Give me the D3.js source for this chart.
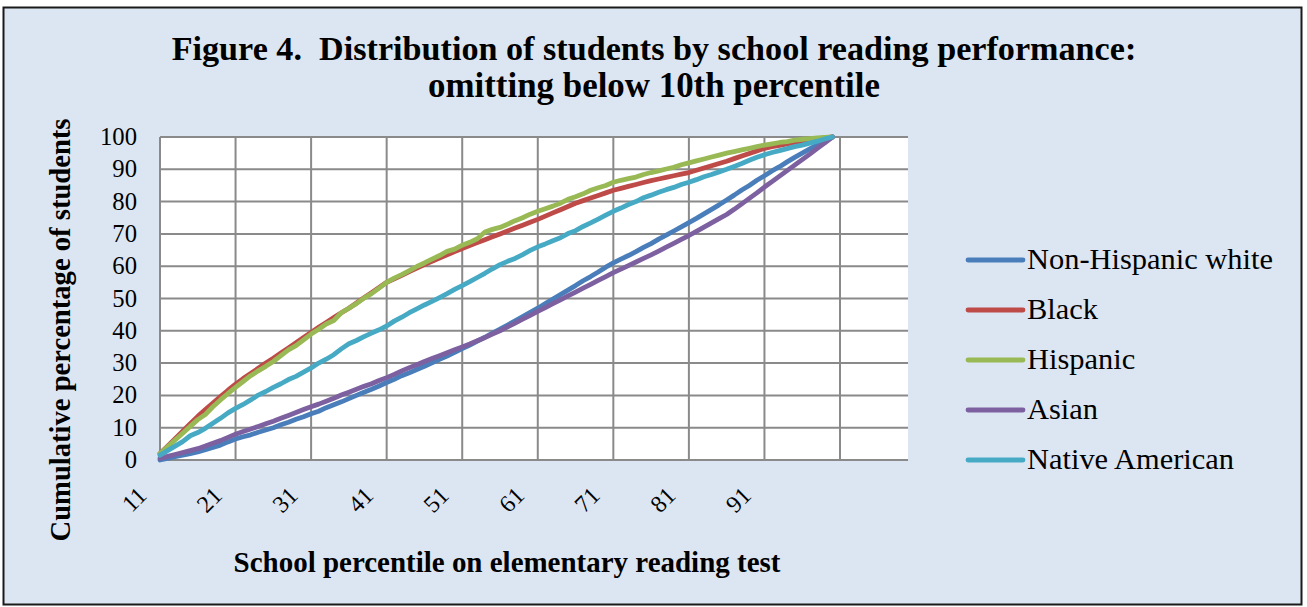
<!DOCTYPE html>
<html><head><meta charset="utf-8">
<script src="https://cdn.jsdelivr.net/npm/d3@7"></script>
<style>
html,body{margin:0;padding:0;background:#fff;}
svg{display:block;}
text{font-family:"Liberation Serif","DejaVu Serif",serif;fill:#000;}
</style></head>
<body>
<svg id="chart" width="1307" height="607"></svg>
<script>
const percentiles = d3.range(11, 101);
const tickLabels = ["11","21","31","41","51","61","71","81","91"];
const yTicks = [0,10,20,30,40,50,60,70,80,90,100];
const seriesNames = ["Non-Hispanic white","Black","Hispanic","Asian","Native American"];
const seriesColors = ["#4a7ebb","#be4b48","#98b954","#7d60a0","#46aac5"];

const white = [0,0.5,1.0,1.5,2.0,2.5, 3.2,3.9,4.6,5.6,6.5, 7.2,7.8,8.6,9.3,10.0, 10.9,11.7,12.6,13.4,14.3,
 15.1,16.2,17.1,18.0,19.0, 20.0,21.0,21.9,22.9,24.0, 25.0,26.1,27.0,28.0,29.0, 30.1,31.2,32.2,33.3,34.5,
 35.6,36.8,38.0,39.3,40.5, 41.8,43.1,44.4,45.7,47.0, 48.4,49.8,51.2,52.6,54.0, 55.5,56.8,58.2,59.7,61.0,
 62.2,63.3,64.5,65.8,67.0, 68.4,69.6,70.9,72.2,73.5, 74.8,76.2,77.6,79.0,80.5, 82.0,83.6,85.0,86.6,88.0,
 89.5,90.8,92.3,93.7,95.0, 96.3,97.6,98.8,100];
const black = [2.0,4.3,6.6,8.9,11.2,13.5, 15.6,17.6,19.6,21.6,23.5, 25.2,26.8,28.4,30.0,31.5, 33.1,34.7,36.3,37.9,39.5,
 41.1,42.6,44.1,45.6,47.0, 48.6,50.2,51.8,53.4,55.0, 56.1,57.2,58.3,59.4,60.5, 61.5,62.5,63.5,64.5,65.5,
 66.4,67.3,68.2,69.1,70.0, 70.9,71.8,72.7,73.6,74.5, 75.5,76.5,77.5,78.5,79.5, 80.3,81.1,81.9,82.7,83.5,
 84.1,84.7,85.3,85.9,86.5, 87.0,87.5,88.0,88.5,89.0, 89.7,90.4,91.1,91.8,92.5, 93.3,94.1,94.9,95.7,96.5,
 97.0,97.4,97.9,98.3,98.8, 99.1,99.4,99.7,100];
const hispanic = [2.0,4.1,6.2,8.3,10.4,12.5, 14.1,16.5,18.6,20.6,22.5, 24.3,26.1,27.6,29.0,30.5, 32.3,34.1,35.4,37.2,39.0,
 40.5,42.1,43.2,45.6,47.0, 48.4,50.1,51.5,53.2,55.0, 56.3,57.4,58.6,59.9,61.0, 62.2,63.3,64.6,65.3,66.5,
 67.4,68.5,70.6,71.4,72.0, 73.0,74.1,75.0,76.1,77.0, 77.8,78.6,79.5,80.7,81.5, 82.4,83.5,84.3,85.0,86.0,
 86.6,87.1,87.6,88.4,89.0, 89.5,90.1,90.6,91.4,92.0, 92.6,93.2,93.8,94.4,95.0, 95.5,96.0,96.5,97.0,97.5,
 97.9,98.3,98.6,99.0,99.3, 99.5,99.7,99.9,100];
const asian = [0.5,1.1,1.7,2.3,2.9,3.5, 4.3,5.2,6.0,7.0,8.0, 8.8,9.6,10.4,11.2,12.0, 12.9,13.8,14.7,15.6,16.5,
 17.3,18.2,19.1,20.1,21.0, 21.9,22.8,23.6,24.6,25.5, 26.5,27.6,28.6,29.5,30.5, 31.4,32.3,33.2,34.1,35.0,
 35.9,36.9,37.9,39.0,40.0, 41.2,42.4,43.6,44.8,46.0, 47.2,48.4,49.6,50.8,52.0, 53.2,54.4,55.6,56.8,58.0,
 59.1,60.2,61.3,62.4,63.5, 64.7,65.9,67.1,68.3,69.5, 70.8,72.1,73.4,74.7,76.0, 77.6,79.3,81.0,82.7,84.5,
 86.2,87.9,89.6,91.3,93.0, 94.7,96.5,98.2,100];
const nativeAmerican = [1.5,2.9,4.3,5.7,7.5,8.5, 9.8,11.4,12.9,14.6,16.0, 17.2,18.6,20.1,21.2,22.5, 23.6,24.9,25.9,27.2,28.5,
 30.0,31.2,32.6,34.4,36.0, 37.0,38.2,39.3,40.3,41.5, 43.0,44.2,45.6,46.8,48.0, 49.1,50.3,51.5,52.8,54.0,
 55.2,56.5,57.8,59.2,60.5, 61.5,62.4,63.6,64.9,66.0, 66.9,67.9,68.8,70.1,71.0, 72.3,73.4,74.6,75.8,77.0,
 78.0,79.1,80.0,81.2,82.0, 82.9,83.7,84.4,85.3,86.0, 86.8,87.7,88.4,89.2,90.0, 90.9,91.8,92.8,93.7,94.5,
 95.2,95.8,96.4,97.0,97.5, 98.1,98.7,99.4,100];
const seriesValues = [white, black, hispanic, asian, nativeAmerican];

const svg = d3.select("#chart");

// chart area background + border
svg.append("rect").attr("x",3.5).attr("y",7.5).attr("width",1298).attr("height",597)
  .attr("fill","#dce6f2").attr("stroke","#1a1a1a").attr("stroke-width",2);

const x = d3.scaleLinear().domain([11,110]).range([160,908]);
const y = d3.scaleLinear().domain([0,100]).range([460,137]);

// plot area
svg.append("rect").attr("x",x(11)).attr("y",y(100)).attr("width",x(110)-x(11)).attr("height",y(0)-y(100)).attr("fill","#fff");

const grid = svg.append("g");
grid.selectAll("line.h").data(yTicks.filter(d=>d>0)).join("line")
  .attr("x1",x(11)).attr("x2",x(110)).attr("y1",d=>y(d)).attr("y2",d=>y(d))
  .attr("stroke","#8a8a8a").attr("stroke-width",2);
grid.selectAll("line.v").data(d3.range(21,102,10)).join("line")
  .attr("y1",y(0)).attr("y2",y(100)).attr("x1",d=>x(d)).attr("x2",d=>x(d))
  .attr("stroke","#8a8a8a").attr("stroke-width",2);
svg.append("line").attr("x1",x(11)).attr("x2",x(11)).attr("y1",y(0)).attr("y2",y(100)).attr("stroke","#8a8a8a").attr("stroke-width",2);
svg.append("line").attr("x1",x(11)-1).attr("x2",x(110)).attr("y1",y(0)).attr("y2",y(0)).attr("stroke","#8a8a8a").attr("stroke-width",2);

function fit(sel, target){
  const n = sel.node(); const w = n.getComputedTextLength();
  const fs = parseFloat(sel.attr("font-size"));
  sel.attr("font-size", (fs*target/w).toFixed(2));
}

// y tick labels
const yl = svg.append("g").selectAll("text").data(yTicks).join("text")
  .attr("x",137).attr("y",d=>y(d)+8).attr("text-anchor","end").attr("font-size",24)
  .text(d=>d);
fit(d3.select(yl.nodes()[10]), 37);
yl.attr("font-size", d3.select(yl.nodes()[10]).attr("font-size"));

// x tick labels
svg.append("g").selectAll("text").data(tickLabels).join("text")
  .attr("text-anchor","end").attr("font-size",24)
  .attr("transform",d=>`translate(${x(+d)-12},${497}) rotate(-45)`)
  .text(d=>d);

// series lines
const line = d3.line().x((d,i)=>x(percentiles[i])).y(d=>y(d));
svg.append("g").selectAll("path").data(seriesValues).join("path")
  .attr("d",d=>line(d)).attr("fill","none")
  .attr("stroke",(d,i)=>seriesColors[i]).attr("stroke-width",4.8)
  .attr("stroke-linejoin","round").attr("stroke-linecap","round");

// titles
const t1 = svg.append("text").attr("x",654).attr("y",60).attr("text-anchor","middle")
  .attr("font-weight","bold").attr("font-size",28).text("Figure 4.  Distribution of students by school reading performance:")
  .style("white-space","pre");
fit(t1, 965);
const t2 = svg.append("text").attr("x",654).attr("y",97).attr("text-anchor","middle")
  .attr("font-weight","bold").attr("font-size",28).text("omitting below 10th percentile");
fit(t2, 452);

const xt = svg.append("text").attr("x",507).attr("y",572).attr("text-anchor","middle")
  .attr("font-weight","bold").attr("font-size",22).text("School percentile on elementary reading test");
fit(xt, 547);
const yt = svg.append("text").attr("transform","translate(70,330) rotate(-90)").attr("text-anchor","middle")
  .attr("font-weight","bold").attr("font-size",22).text("Cumulative percentage of students");
fit(yt, 423);

// legend
const rows = svg.append("g").selectAll("g").data(seriesNames).join("g")
  .attr("transform",(d,i)=>`translate(968,${260+i*50})`);
rows.append("line").attr("x1",0).attr("x2",55).attr("y1",0).attr("y2",0)
  .attr("stroke",(d,i)=>seriesColors[i]).attr("stroke-width",4.8).attr("stroke-linecap","round");
const lt = rows.append("text").attr("x",59).attr("y",9).attr("font-size",25).text(d=>d);
fit(d3.select(lt.nodes()[0]), 246);
lt.attr("font-size", d3.select(lt.nodes()[0]).attr("font-size"));
</script>
</body></html>
